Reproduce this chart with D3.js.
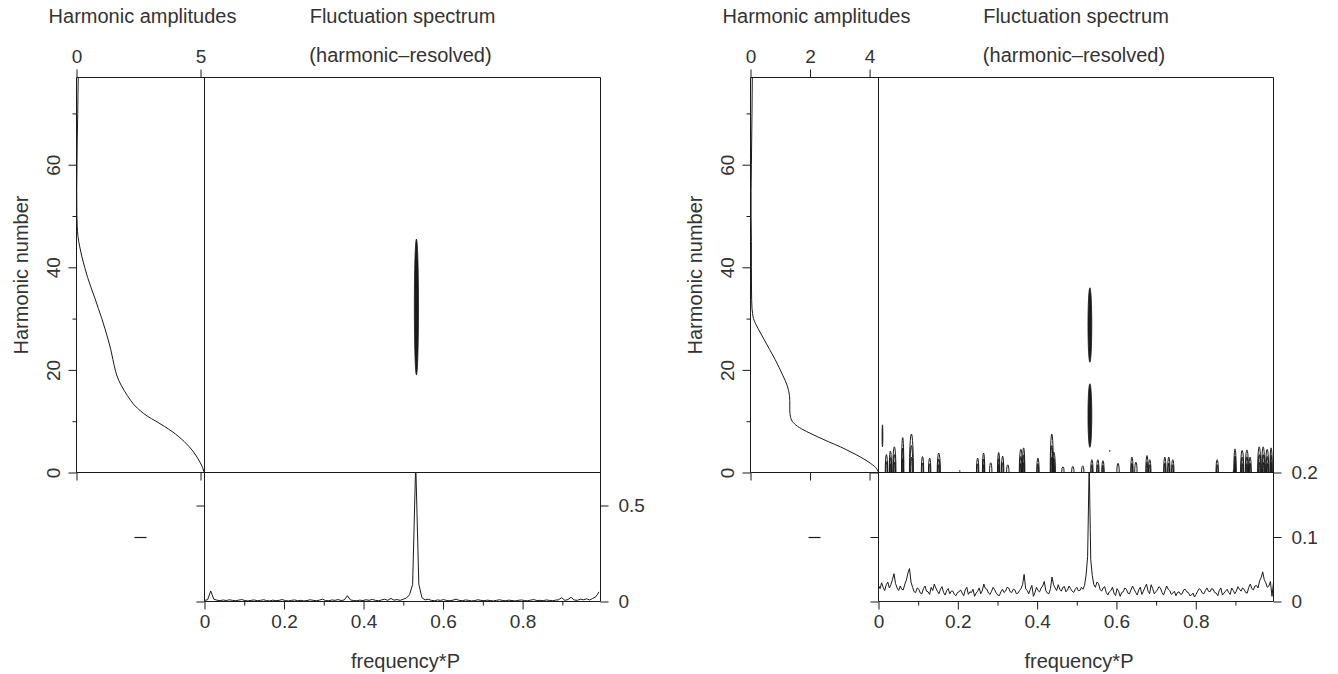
<!DOCTYPE html>
<html>
<head>
<meta charset="utf-8">
<script src="https://cdn.jsdelivr.net/npm/d3@7"></script>
<style>
  body { margin: 0; background: #fff; }
  svg text { font-family: "Liberation Sans", Arial, sans-serif; }
</style>
</head>
<body>
<div id="chart"></div>
<script>
// ---- data ----
const maxHarmonic = 77;

// [harmonic number, amplitude]
const leftAmplitudes = [
  [0,5.15],[1,5.08],[2,4.98],[3,4.86],[4,4.72],[5,4.55],[6,4.35],[7,4.12],[8,3.85],[9,3.54],
  [10,3.2],[11,2.85],[12,2.58],[13,2.36],[14,2.19],[15,2.05],[16,1.92],[17,1.8],[18,1.7],[19,1.62],
  [20,1.56],[22,1.47],[24,1.38],[26,1.27],[28,1.15],[30,1.02],[32,0.88],[34,0.74],[36,0.59],[38,0.45],
  [40,0.33],[42,0.22],[44,0.13],[46,0.06],[48,0.03],[50,0.015],[55,0.01],[60,0.02],[65,0.03],[70,0.05],
  [74,0.06],[77,0.07]
];
const rightAmplitudes = [
  [0,4.3],[1,4.2],[2,3.98],[3,3.7],[4,3.37],[5,3.02],[6,2.62],[7,2.24],[8,1.88],[9,1.58],
  [10,1.4],[11,1.34],[12,1.32],[14,1.32],[15,1.31],[16,1.28],[17,1.23],[18,1.16],[19,1.08],[20,1.0],
  [22,0.83],[24,0.64],[26,0.45],[28,0.26],[29,0.17],[30,0.1],[31,0.07],[32,0.05],[35,0.035],[40,0.03],
  [45,0.03],[50,0.02],[55,0.02],[60,0.03],[65,0.04],[70,0.05],[77,0.06]
];

// fluctuation spectra, evenly spaced bins from frequency 0 (bin i -> i / length)
const leftSpectrum = [
  0.006,0.009,0.055,0.012,0.007,0.004,0.008,0.005,0.009,0.006,0.004,0.007,0.010,0.005,0.003,0.006,
  0.008,0.004,0.006,0.009,0.005,0.003,0.007,0.004,0.006,0.010,0.005,0.003,0.006,0.008,0.004,0.006,
  0.003,0.005,0.009,0.006,0.004,0.007,0.012,0.005,0.004,0.008,0.006,0.010,0.005,0.008,0.030,0.008,
  0.005,0.004,0.007,0.005,0.009,0.006,0.011,0.006,0.004,0.008,0.012,0.006,0.016,0.007,0.010,0.006,
  0.012,0.018,0.035,0.088,0.720,0.090,0.020,0.008,0.012,0.006,0.004,0.008,0.006,0.010,0.005,0.004,
  0.007,0.012,0.006,0.004,0.008,0.006,0.003,0.005,0.009,0.006,0.004,0.007,0.005,0.003,0.006,0.009,
  0.005,0.004,0.007,0.005,0.003,0.006,0.008,0.005,0.004,0.007,0.010,0.005,0.006,0.004,0.008,0.006,
  0.004,0.007,0.009,0.020,0.006,0.010,0.022,0.008,0.006,0.012,0.009,0.014,0.008,0.016,0.025,0.050
];
const rightSpectrum = [
  0.025,0.020,0.029,0.022,0.017,0.026,0.030,0.021,0.026,0.034,0.043,0.028,0.021,0.017,0.024,0.019,
  0.018,0.027,0.033,0.044,0.051,0.030,0.022,0.015,0.014,0.021,0.019,0.013,0.012,0.020,0.024,0.016,
  0.015,0.011,0.022,0.017,0.027,0.021,0.016,0.012,0.019,0.023,0.014,0.010,0.017,0.020,0.012,0.016,
  0.016,0.011,0.009,0.014,0.015,0.018,0.013,0.009,0.018,0.022,0.011,0.015,0.014,0.019,0.008,0.013,
  0.016,0.021,0.012,0.017,0.027,0.020,0.019,0.013,0.011,0.016,0.022,0.018,0.013,0.010,0.009,0.015,
  0.019,0.014,0.016,0.022,0.021,0.015,0.014,0.019,0.018,0.012,0.013,0.017,0.020,0.026,0.042,0.020,
  0.017,0.012,0.019,0.025,0.008,0.014,0.022,0.017,0.015,0.021,0.024,0.031,0.017,0.013,0.012,0.020,
  0.038,0.026,0.021,0.017,0.026,0.019,0.016,0.022,0.023,0.015,0.018,0.024,0.020,0.016,0.014,0.019,
  0.022,0.017,0.017,0.022,0.019,0.025,0.041,0.070,0.215,0.065,0.040,0.026,0.022,0.030,0.028,0.019,
  0.016,0.021,0.023,0.014,0.010,0.015,0.017,0.022,0.013,0.009,0.020,0.016,0.008,0.014,0.015,0.021,
  0.019,0.013,0.012,0.018,0.024,0.019,0.014,0.010,0.018,0.022,0.011,0.016,0.022,0.027,0.016,0.012,
  0.026,0.020,0.012,0.015,0.018,0.023,0.021,0.014,0.010,0.017,0.024,0.019,0.017,0.011,0.013,0.016,
  0.009,0.014,0.015,0.011,0.012,0.018,0.019,0.015,0.014,0.009,0.010,0.013,0.007,0.011,0.016,0.020,
  0.018,0.013,0.012,0.017,0.021,0.016,0.015,0.020,0.019,0.014,0.013,0.009,0.017,0.021,0.010,0.013,
  0.016,0.019,0.014,0.011,0.021,0.017,0.012,0.016,0.023,0.019,0.016,0.021,0.019,0.014,0.013,0.022,
  0.027,0.020,0.018,0.024,0.025,0.021,0.032,0.037,0.046,0.034,0.029,0.022,0.024,0.031,0.008,0.030
];

// closed contours: [freq, harmonic low, harmonic high, freq half-width]
const leftContours = [[0.533, 19, 45.5, 0.0052]];
const rightContours = [[0.533, 21.5, 36, 0.0048], [0.533, 4.9, 17.3, 0.0048], [0.010, 5, 9.3, 0.0011]];
// contours cut by the bottom edge: [freq, harmonic top, freq half-width]
const leftEdgeContours = [];
const rightEdgeContours = [
  [0.020,3.5,0.003],[0.030,4.2,0.003],[0.040,5.0,0.004],[0.061,6.8,0.003],[0.083,7.5,0.005],
  [0.111,3.1,0.003],[0.129,2.8,0.003],[0.152,3.8,0.004],[0.250,2.8,0.003],[0.265,3.8,0.003],
  [0.283,1.9,0.003],[0.303,3.9,0.003],[0.313,3.2,0.003],[0.326,1.5,0.003],[0.359,4.5,0.004],
  [0.366,4.8,0.003],[0.402,2.8,0.003],[0.437,7.5,0.004],[0.442,4.0,0.004],[0.465,1.1,0.003],
  [0.490,1.2,0.003],[0.515,1.3,0.003],[0.538,2.5,0.003],[0.553,2.5,0.003],[0.566,2.3,0.003],
  [0.604,1.8,0.003],[0.639,3.0,0.003],[0.649,2.0,0.003],[0.677,3.3,0.003],[0.684,2.5,0.003],
  [0.722,3.0,0.003],[0.732,3.0,0.003],[0.742,2.5,0.003],[0.854,2.5,0.003],[0.899,4.6,0.003],
  [0.917,4.3,0.004],[0.929,4.4,0.004],[0.937,3.0,0.003],[0.960,5.0,0.004],[0.970,5.0,0.004],
  [0.980,4.5,0.004],[0.990,4.8,0.003]
];
const rightDots = [[0.205, 0.3], [0.583, 4.2], [0.895, 0.3]];

const freqMajor = [0, 0.2, 0.4, 0.6, 0.8];
const freqMinor = [0.1, 0.3, 0.5, 0.7, 0.9];
const harmMajor = [0, 20, 40, 60];
const harmMinor = [10, 30, 50, 70];

const figures = [
  {id: 'l', x0: 76.5, x1: 204.5, x2: 600.5, ampMax: 5.16, ampTicks: [0, 5], specMax: 0.672, specTicks: [0, 0.5],
   amps: leftAmplitudes, spectrum: leftSpectrum, contours: leftContours, edges: leftEdgeContours, dots: []},
  {id: 'r', x0: 750.5, x1: 878.5, x2: 1273.5, ampMax: 4.30, ampTicks: [0, 2, 4], specMax: 0.2, specTicks: [0, 0.1, 0.2],
   amps: rightAmplitudes, spectrum: rightSpectrum, contours: rightContours, edges: rightEdgeContours, dots: rightDots}
];

const yTop = 77.5, yMid = 472.5, yBottom = 601.5;
const ink = '#1a1a1a';
const textInk = '#333';
const fontFamily = '"Liberation Sans", Arial, sans-serif';

let svg = d3.select('#chart')
  .append('svg')
    .attr('width', 1338)
    .attr('height', 674);

let styleAxis = (sel) => {
  sel.attr('font-size', 19).attr('font-family', fontFamily).attr('color', ink);
  sel.selectAll('text').attr('fill', textInk);
  sel.select('.domain').remove();
};

figures.forEach((fig) => {
  let g = svg.append('g');

  let amp = d3.scaleLinear().domain([0, fig.ampMax]).range([fig.x0, fig.x1]);
  let harm = d3.scaleLinear().domain([0, maxHarmonic]).range([yMid, yTop]);
  let freq = d3.scaleLinear().domain([0, 0.996]).range([fig.x1, fig.x2]);
  let spec = d3.scaleLinear().domain([0, fig.specMax]).range([yBottom, yMid]);

  // clip areas
  let defs = g.append('defs');
  defs.append('clipPath').attr('id', 'clip-c-' + fig.id)
    .append('rect').attr('x', fig.x1).attr('y', yTop).attr('width', fig.x2 - fig.x1).attr('height', yMid - yTop);
  defs.append('clipPath').attr('id', 'clip-s-' + fig.id)
    .append('rect').attr('x', fig.x1).attr('y', yMid).attr('width', fig.x2 - fig.x1).attr('height', yBottom - yMid);

  // frame
  let frame = [
    [fig.x0, yTop, fig.x2, yTop],
    [fig.x0, yTop, fig.x0, yMid],
    [fig.x1, yTop, fig.x1, yBottom],
    [fig.x2, yTop, fig.x2, yBottom],
    [fig.x0, yMid, fig.x2, yMid],
    [fig.x1, yBottom, fig.x2, yBottom]
  ];
  g.selectAll('line.frame')
    .data(frame)
    .enter()
    .append('line')
    .attr('class', 'frame')
    .attr('x1', d => d[0]).attr('y1', d => d[1])
    .attr('x2', d => d[2]).attr('y2', d => d[3])
    .attr('stroke', ink)
    .attr('stroke-width', 1);

  // amplitude axes (top labelled, bottom ticks only)
  g.append('g')
    .attr('transform', `translate(0,${yTop})`)
    .call(d3.axisTop(amp).tickValues(fig.ampTicks).tickSize(8).tickPadding(7).tickFormat(d3.format('d')))
    .call(styleAxis);
  g.append('g')
    .attr('transform', `translate(0,${yMid})`)
    .call(d3.axisBottom(amp).tickValues(fig.ampTicks).tickSize(8).tickFormat(''))
    .call(styleAxis);

  // harmonic number axis
  g.append('g')
    .attr('transform', `translate(${fig.x0},0)`)
    .call(d3.axisLeft(harm).tickValues(harmMajor).tickSize(8).tickFormat(d3.format('d')))
    .call(styleAxis)
    .call(a => a.selectAll('text')
      .attr('text-anchor', 'middle')
      .attr('x', 0)
      .attr('y', -16.5)
      .attr('dy', 0)
      .attr('transform', 'rotate(-90)'));
  g.append('g')
    .attr('transform', `translate(${fig.x0},0)`)
    .call(d3.axisLeft(harm).tickValues(harmMinor).tickSize(4).tickFormat(''))
    .call(styleAxis);

  // spectrum axes
  g.append('g')
    .attr('transform', `translate(${fig.x1},0)`)
    .call(d3.axisLeft(spec).tickValues(fig.specTicks).tickSize(8).tickFormat(''))
    .call(styleAxis);
  g.append('g')
    .attr('transform', `translate(${fig.x2},0)`)
    .call(d3.axisRight(spec).tickValues(fig.specTicks).tickSize(8).tickPadding(10).tickFormat(d3.format('~g')))
    .call(styleAxis);

  // frequency axis
  g.append('g')
    .attr('transform', `translate(0,${yBottom})`)
    .call(d3.axisBottom(freq).tickValues(freqMajor).tickSize(8).tickPadding(5).tickFormat(d3.format('~g')))
    .call(styleAxis);
  g.append('g')
    .attr('transform', `translate(0,${yBottom})`)
    .call(d3.axisBottom(freq).tickValues(freqMinor).tickSize(4).tickFormat(''))
    .call(styleAxis);

  // harmonic amplitude curve
  let ampLine = d3.line()
    .x(d => amp(d[1]))
    .y(d => harm(d[0]))
    .curve(d3.curveMonotoneY);
  g.append('path')
    .attr('d', ampLine(fig.amps))
    .attr('fill', 'none')
    .attr('stroke', ink)
    .attr('stroke-width', 1);

  // harmonic-resolved contours
  let cg = g.append('g').attr('clip-path', `url(#clip-c-${fig.id})`);
  fig.contours.forEach((c) => {
    cg.append('ellipse')
      .attr('cx', freq(c[0]))
      .attr('cy', harm((c[1] + c[2]) / 2))
      .attr('rx', freq(c[3]) - freq(0))
      .attr('ry', (harm(c[1]) - harm(c[2])) / 2)
      .attr('fill', ink)
      .attr('stroke', ink)
      .attr('stroke-width', 0.8);
  });
  fig.edges.forEach((c) => {
    let lv = c[1] > 3.5 ? [1, 0.7, 0.4] : (c[1] > 2 ? [1, 0.6] : [1]);
    lv.forEach((s) => {
      cg.append('ellipse')
        .attr('cx', freq(c[0]))
        .attr('cy', harm(0))
        .attr('rx', (freq(c[2]) - freq(0)) * s)
        .attr('ry', (harm(0) - harm(c[1])) * s)
        .attr('fill', 'none')
        .attr('stroke', ink)
        .attr('stroke-width', 1);
    });
  });
  cg.selectAll('circle.dot')
    .data(fig.dots)
    .enter()
    .append('circle')
    .attr('class', 'dot')
    .attr('cx', d => freq(d[0]))
    .attr('cy', d => harm(d[1]))
    .attr('r', 0.8)
    .attr('fill', ink);

  // fluctuation spectrum
  let n = fig.spectrum.length;
  let specLine = d3.line()
    .x((d, i) => freq(i / n))
    .y(d => spec(d));
  g.append('path')
    .attr('clip-path', `url(#clip-s-${fig.id})`)
    .attr('d', specLine(fig.spectrum))
    .attr('fill', 'none')
    .attr('stroke', ink)
    .attr('stroke-width', 1);

  // empty marker in lower-left box
  let cx = (fig.x0 + fig.x1) / 2;
  g.append('line')
    .attr('x1', cx - 6).attr('x2', cx + 6)
    .attr('y1', 537.5).attr('y2', 537.5)
    .attr('stroke', ink)
    .attr('stroke-width', 1.2);

  // titles
  let text = (x, y, s) => g.append('text')
    .attr('x', x).attr('y', y)
    .attr('text-anchor', 'middle')
    .attr('font-size', 20)
    .attr('fill', textInk)
    .text(s);
  text((fig.x0 + fig.x1) / 2 + 2, 23, 'Harmonic amplitudes');
  text((fig.x1 + fig.x2) / 2, 23, 'Fluctuation spectrum');
  text((fig.x1 + fig.x2) / 2 - 2, 62, '(harmonic\u2013resolved)');
  text((fig.x1 + fig.x2) / 2 + 3, 668, 'frequency*P');
  g.append('text')
    .attr('transform', `translate(${fig.x0 - 49},${(yTop + yMid) / 2}) rotate(-90)`)
    .attr('text-anchor', 'middle')
    .attr('font-size', 20)
    .attr('fill', textInk)
    .text('Harmonic number');
});
</script>
</body>
</html>
